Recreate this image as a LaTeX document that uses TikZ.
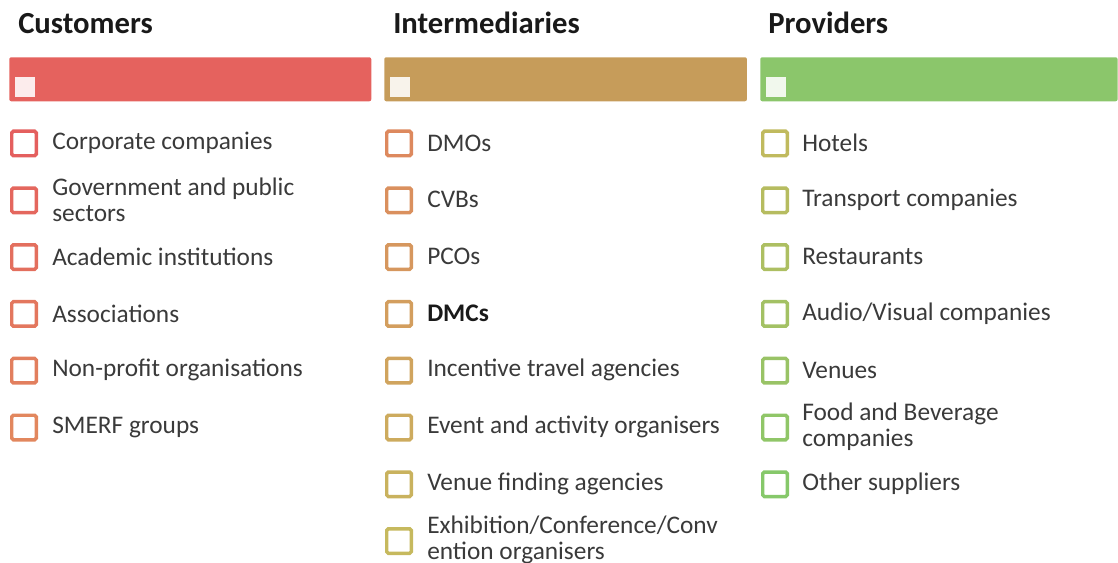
\documentclass[tikz,border=0pt]{standalone}
\usepackage{fontspec}
\setmainfont{Carlito}
\usetikzlibrary{positioning}

\definecolor{custbar}{HTML}{E5625E}
\definecolor{intbar}{HTML}{C69C5A}
\definecolor{provbar}{HTML}{8BC66B}
\definecolor{custA}{HTML}{E45F5E}
\definecolor{custB}{HTML}{E2875E}
\definecolor{intA}{HTML}{DD895E}
\definecolor{intB}{HTML}{C6B95E}
\definecolor{provA}{HTML}{C0BA5E}
\definecolor{provB}{HTML}{86C86A}
\definecolor{textgray}{HTML}{3A3A3A}

\begin{document}
\begin{tikzpicture}[
  x=0.75pt, y=-0.75pt,
  head/.style={anchor=base west, inner sep=0, font=\fontsize{23}{26}\selectfont\bfseries, text=black!90},
  bar/.style={rectangle, rounded corners=1.5pt, anchor=north west, minimum height=33pt, inner sep=0, fill=#1},
  chip/.style={rectangle, minimum size=15pt, inner sep=0, fill=#1},
  tick/.style={rectangle, draw=#1, line width=2.6pt, rounded corners=1.2pt, minimum size=18.4pt, inner sep=0},
  item/.style={anchor=west, inner sep=0, align=left, text=textgray, font=\fontsize{19}{19.5}\selectfont}
]
  \useasboundingbox (0,0) rectangle (1118,563);

  % Column headers
  \node[head] (cust) at (18,34) {Customers};
  \node[head] (inter) at (393,34) {Intermediaries};
  \node[head] (prov) at (768,34) {Providers};

  % Coloured bars with their small squares
  \node[bar=custbar, minimum width=271.5pt] (custbar) at (9,57) {};
  \node[bar=intbar, minimum width=272pt] (intbar) at (384,57) {};
  \node[bar=provbar, minimum width=268pt] (provbar) at (760,57) {};
  \node[chip=custbar!12] (custchip) at (25,87) {};
  \node[chip=intbar!12] (intchip) at (400,87) {};
  \node[chip=provbar!12] (provchip) at (776,87) {};

  % Customers
  \node[tick=custA] (cbox1) at (24,143.5) {};
  \node[tick=custA!80!custB] (cbox2) at (24,200.3) {};
  \node[tick=custA!60!custB] (cbox3) at (24,257.1) {};
  \node[tick=custA!40!custB] (cbox4) at (24,313.9) {};
  \node[tick=custA!20!custB] (cbox5) at (24,370.7) {};
  \node[tick=custB] (cbox6) at (24,427.5) {};
  \node[item] (corp) at (52,143) {Corporate companies};
  \node[item] (gov) at (52,199.5) {Government and public\\sectors};
  \node[item] (acad) at (52,256.5) {Academic institutions};
  \node[item] (assoc) at (52,313.5) {Associations};
  \node[item] (nonprofit) at (52,370) {Non-profit organisations};
  \node[item] (smerf) at (52,427) {SMERF groups};

  % Intermediaries
  \node[tick=intA] (ibox1) at (399,143.5) {};
  \node[tick=intA!86!intB] (ibox2) at (399,200.3) {};
  \node[tick=intA!71!intB] (ibox3) at (399,257.1) {};
  \node[tick=intA!57!intB] (ibox4) at (399,313.9) {};
  \node[tick=intA!43!intB] (ibox5) at (399,370.7) {};
  \node[tick=intA!29!intB] (ibox6) at (399,427.5) {};
  \node[tick=intA!14!intB] (ibox7) at (399,484.3) {};
  \node[tick=intB] (ibox8) at (399,541.1) {};
  \node[item] (dmo) at (427,143) {DMOs};
  \node[item] (cvb) at (427,199.5) {CVBs};
  \node[item] (pco) at (427,256.5) {PCOs};
  \node[item, font=\fontsize{19}{19.5}\selectfont\bfseries, text=black!90] (dmc) at (427,313.5) {DMCs};
  \node[item] (incentive) at (427,370) {Incentive travel agencies};
  \node[item] (event) at (427,427) {Event and activity organisers};
  \node[item] (venuefind) at (427,483.5) {Venue finding agencies};
  \node[item] (exhib) at (427,540) {Exhibition/Conference/Conv\\ention organisers};

  % Providers
  \node[tick=provA] (pbox1) at (775,143.5) {};
  \node[tick=provA!83!provB] (pbox2) at (775,200.3) {};
  \node[tick=provA!67!provB] (pbox3) at (775,257.1) {};
  \node[tick=provA!50!provB] (pbox4) at (775,313.9) {};
  \node[tick=provA!33!provB] (pbox5) at (775,370.7) {};
  \node[tick=provA!17!provB] (pbox6) at (775,427.5) {};
  \node[tick=provB] (pbox7) at (775,484.3) {};
  \node[item] (hotel) at (802,143) {Hotels};
  \node[item] (transport) at (802,199.5) {Transport companies};
  \node[item] (rest) at (802,256.5) {Restaurants};
  \node[item] (av) at (802,313.5) {Audio/Visual companies};
  \node[item] (venue) at (802,370) {Venues};
  \node[item] (food) at (802,427) {Food and Beverage\\companies};
  \node[item] (other) at (802,483.5) {Other suppliers};
\end{tikzpicture}
\end{document}
